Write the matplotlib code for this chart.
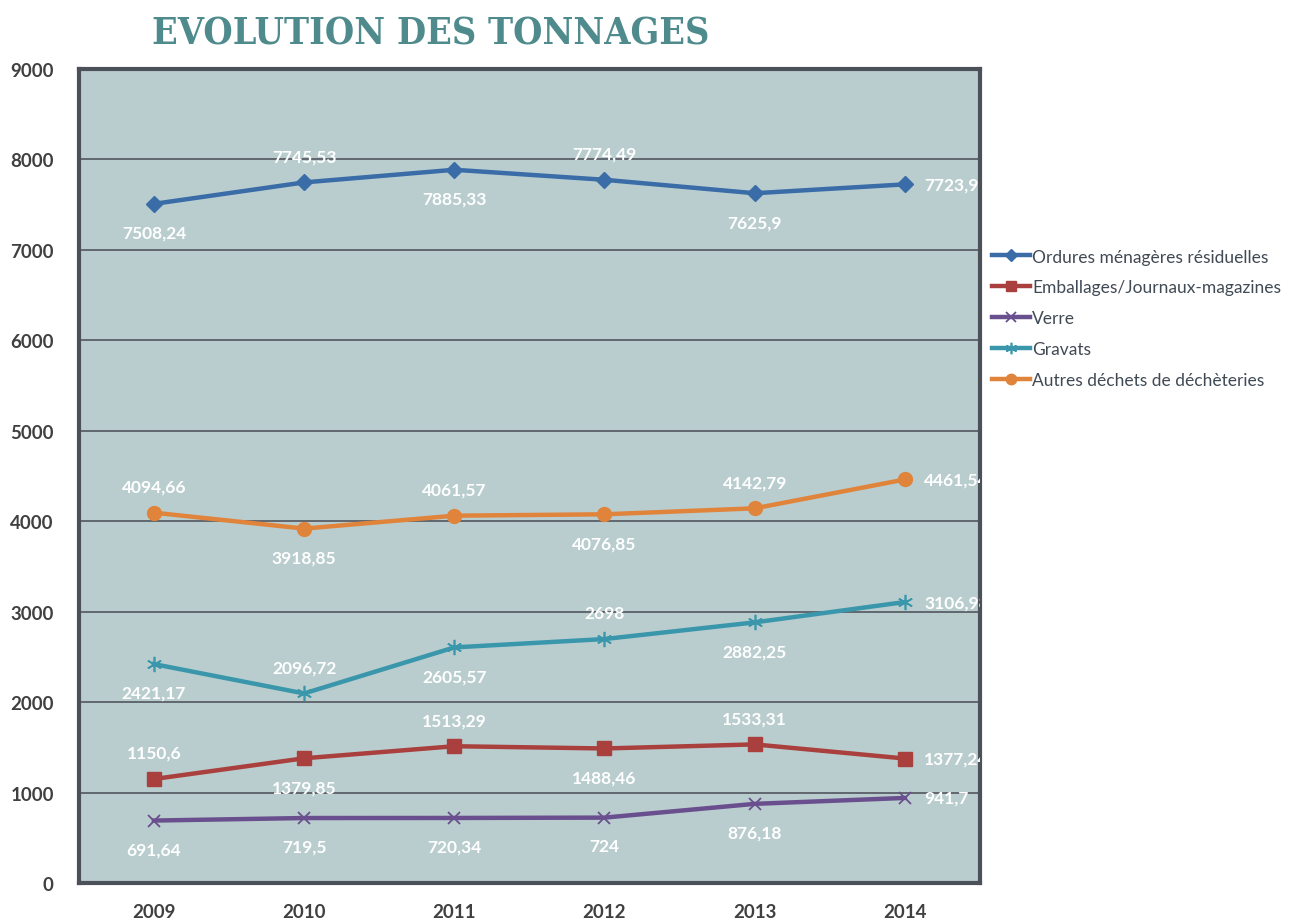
import matplotlib
matplotlib.use('Agg')
import matplotlib.pyplot as plt

plt.rcParams['font.family'] = ['Lato', 'DejaVu Sans']

years = ["2009", "2010", "2011", "2012", "2013", "2014"]
ordures = [7508.24, 7745.53, 7885.33, 7774.49, 7625.9, 7723.9]
emballages = [1150.6, 1379.85, 1513.29, 1488.46, 1533.31, 1377.24]
verre = [691.64, 719.5, 720.34, 724, 876.18, 941.7]
gravats = [2421.17, 2096.72, 2605.57, 2698, 2882.25, 3106.98]
autres = [4094.66, 3918.85, 4061.57, 4076.85, 4142.79, 4461.54]

ordures_lbl = ["7508,24", "7745,53", "7885,33", "7774,49", "7625,9", "7723,9"]
emballages_lbl = ["1150,6", "1379,85", "1513,29", "1488,46", "1533,31", "1377,24"]
verre_lbl = ["691,64", "719,5", "720,34", "724", "876,18", "941,7"]
gravats_lbl = ["2421,17", "2096,72", "2605,57", "2698", "2882,25", "3106,98"]
autres_lbl = ["4094,66", "3918,85", "4061,57", "4076,85", "4142,79", "4461,54"]

fig = plt.figure(figsize=(12.92, 9.2), dpi=100)
ax = fig.add_axes([0.061, 0.039, 0.6975, 0.885])
ax.set_facecolor('#b9cdcf')

x = [i + 0.5 for i in range(len(years))]

# (values, labels, name, color, marker, msize, mew, label side per point)
series = [
    (ordures, ordures_lbl, "Ordures ménagères résiduelles", '#3a6ca8', 'D', 8, 1.0,
     ['b', 't', 'b', 't', 'b', 'r']),
    (emballages, emballages_lbl, "Emballages/Journaux-magazines", '#a9403e', 's', 10, 1.0,
     ['t', 'b', 't', 'b', 't', 'r']),
    (verre, verre_lbl, "Verre", '#6a4f8e', 'x', 9, 1.3,
     ['b', 'b', 'b', 'b', 'b', 'r']),
    (gravats, gravats_lbl, "Gravats", '#3a97ab', (6, 2, 0), 11, 1.2,
     ['b', 't', 'b', 't', 'b', 'r']),
    (autres, autres_lbl, "Autres déchets de déchèteries", '#e0843b', 'o', 10, 1.0,
     ['t', 'b', 't', 'b', 't', 'r']),
]

for vals, lbls, name, col, mk, ms, mew, pos in series:
    ax.plot(x, vals, color=col, lw=3.2, marker=mk, markersize=ms,
            markeredgewidth=mew, label=name, zorder=3)
    for xi, v, t, p in zip(x, vals, lbls, pos):
        if p == 't':
            ax.annotate(t, (xi, v), xytext=(0, 13), textcoords='offset points',
                        ha='center', va='bottom', color='white', fontsize=12.5,
                        fontweight='bold', annotation_clip=False)
        elif p == 'b':
            ax.annotate(t, (xi, v), xytext=(0, -15), textcoords='offset points',
                        ha='center', va='top', color='white', fontsize=12.5,
                        fontweight='bold', annotation_clip=False)
        else:
            ax.annotate(t, (xi, v), xytext=(14, 0), textcoords='offset points',
                        ha='left', va='center', color='white', fontsize=12.5,
                        fontweight='bold', clip_on=True)

ax.set_xlim(0, 6)
ax.set_ylim(0, 9000)
ax.set_yticks(range(0, 9001, 1000))
ax.set_xticks(x)
ax.set_xticklabels(years)
ax.grid(axis='y', color='#5a5f66', lw=1.3)
ax.set_axisbelow(True)
ax.tick_params(length=0, labelsize=13.5, labelcolor='#404040', pad=14)
ax.tick_params(axis='y', pad=18)
for lab in ax.get_xticklabels() + ax.get_yticklabels():
    lab.set_fontweight('bold')
for s in ax.spines.values():
    s.set_color('#4c5159')
    s.set_linewidth(3)

leg = ax.legend(loc='center left', bbox_to_anchor=(1.0, 0.694), frameon=False,
                fontsize=12.5, handlelength=2.2, handletextpad=0.1,
                labelspacing=0.85, borderaxespad=0.3, markerscale=0.75)
for t in leg.get_texts():
    t.set_color('#404a55')

fig.text(0.3336, 0.963, "EVOLUTION DES TONNAGES", ha='center', va='center',
         fontsize=27, fontweight='bold', fontstretch='condensed',
         color='#4f8b8c', family='DejaVu Serif')

fig.savefig('out.png', dpi=100)
